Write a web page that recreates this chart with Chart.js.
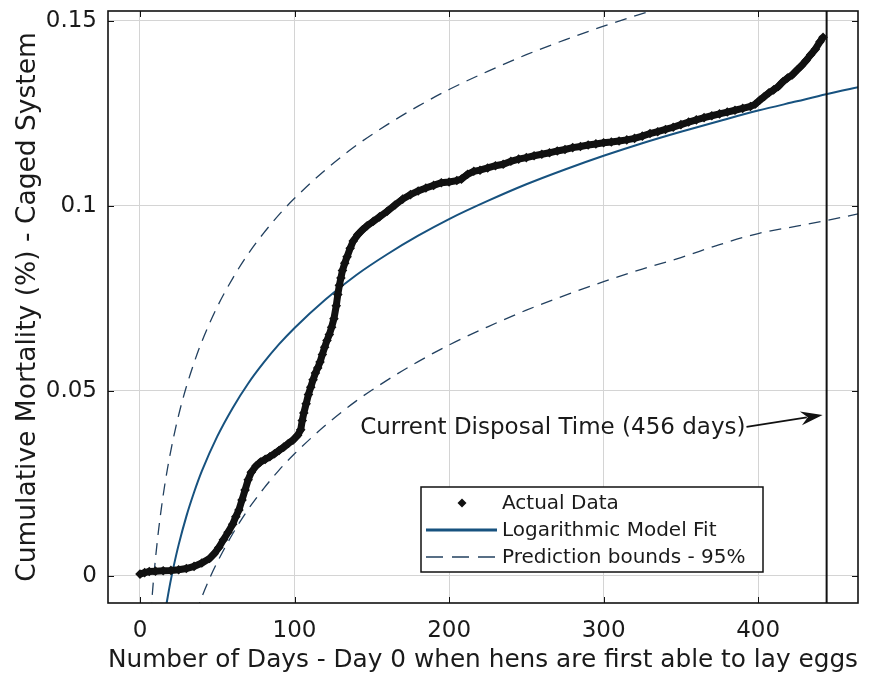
<!DOCTYPE html>
<html><head><meta charset="utf-8">
<script src="https://cdn.jsdelivr.net/npm/chart.js@4.4.1/dist/chart.umd.min.js"></script>
<style>html,body{margin:0;padding:0;background:#fff;} canvas{display:block;}</style>
</head><body>
<canvas id="c" width="871" height="679"></canvas>
<script>
// ---- data ----
const xTickValues = [0, 100, 200, 300, 400];
const xTickLabels = ['0', '100', '200', '300', '400'];
const yTickValues = [0, 0.05, 0.1, 0.15];
const yTickLabels = ['0', '0.05', '0.1', '0.15'];

const seriesNames = ['Actual Data', 'Logarithmic Model Fit', 'Prediction bounds - 95%'];
const xTitle = 'Number of Days - Day 0 when hens are first able to lay eggs';
const yTitle = 'Cumulative Mortality (%) - Caged System';
const annotationText = 'Current Disposal Time (456 days)';
const disposalDay = 444.3;

const actualDays = [0,3,6,10,15,20,25,30,35,40,45,48,51,54,57,60,62,64,66,68,70,72,75,78,81,84,87,90,93,96,99,102,104,105,106,107.5,109,110.5,112,113.5,115,116.5,118,119.5,121,122.5,124,125.5,127,128,129,130,131,132.5,134,136,138,141,144,147,151,155,160,165,170,175,180,185,190,195,200,205,208,212,216,220,225,230,235,240,245,250,255,260,265,270,275,280,285,290,295,300,305,310,315,320,325,330,335,340,345,350,355,360,365,370,375,380,385,390,395,398,401,404,407,410,413,416,419,422,425,428,431,434,437,440,442];
const actualMortality = [0.0005,0.0009,0.0012,0.0013,0.0014,0.0015,0.0017,0.0020,0.0026,0.0035,0.0047,0.0060,0.0077,0.0098,0.0118,0.0140,0.0160,0.0178,0.0205,0.0232,0.0260,0.0280,0.0297,0.0308,0.0315,0.0322,0.0330,0.0339,0.0348,0.0358,0.0367,0.0380,0.0395,0.0420,0.0440,0.0465,0.0490,0.0510,0.0530,0.0548,0.0562,0.0578,0.0598,0.0618,0.0636,0.0652,0.0672,0.0695,0.0730,0.0760,0.0785,0.0805,0.0825,0.0845,0.0862,0.0885,0.0905,0.0922,0.0935,0.0946,0.0958,0.0970,0.0985,0.1002,0.1018,0.1030,0.1040,0.1048,0.1055,0.1062,0.1064,0.1068,0.1072,0.1085,0.1093,0.1096,0.1102,0.1108,0.1112,0.1120,0.1126,0.1130,0.1135,0.1139,0.1143,0.1148,0.1152,0.1157,0.1160,0.1164,0.1167,0.1170,0.1172,0.1175,0.1178,0.1182,0.1188,0.1195,0.1200,0.1206,0.1212,0.1219,0.1226,0.1232,0.1238,0.1243,0.1248,0.1253,0.1258,0.1263,0.1268,0.1274,0.1285,0.1295,0.1305,0.1313,0.1322,0.1335,0.1345,0.1353,0.1366,0.1378,0.1392,0.1408,0.1423,0.1443,0.1455];

const fitDays = [17,18,20,22,25,30,35,40,50,60,70,80,90,100,120,140,160,180,200,225,250,275,300,325,350,375,400,425,444,467];
const fitValues = [-0.0079,-0.0055,-0.0010,0.0030,0.0084,0.0161,0.0226,0.0283,0.0377,0.0454,0.0520,0.0576,0.0626,0.0670,0.0747,0.0813,0.0869,0.0919,0.0964,0.1013,0.1058,0.1098,0.1135,0.1169,0.1200,0.1229,0.1257,0.1282,0.1301,0.1322];

const upperDays = [7,8,9,10,12,15,18,22,26,30,35,40,50,60,70,80,90,100,120,140,160,180,200,225,250,275,300,325,350];
const upperValues = [-0.0105,-0.0048,0.0002,0.0046,0.0123,0.0218,0.0295,0.0380,0.0451,0.0511,0.0576,0.0633,0.0727,0.0804,0.0870,0.0926,0.0976,0.1020,0.1097,0.1163,0.1219,0.1269,0.1314,0.1363,0.1408,0.1448,0.1485,0.1519,0.1550];

const lowerDays = [36,40,45,50,60,70,80,90,100,120,140,160,180,200,225,250,275,300,325,350,375,400,425,444,467];
const lowerValues = [-0.0102,-0.0057,-0.0007,0.0037,0.0114,0.0180,0.0236,0.0286,0.0330,0.0407,0.0473,0.0529,0.0579,0.0624,0.0673,0.0718,0.0758,0.0795,0.0829,0.0860,0.0895,0.0925,0.0945,0.0960,0.0980];

// ---- styles ----
const FONT = 'DejaVu Sans';
const TEXT = '#1a1a1a';
const FIT_COLOR = '#17527f';
const BOUND_COLOR = '#22405f';
const DASH = [12, 8];

const pts = (xs, ys) => xs.map((x, i) => ({x: x, y: ys[i]}));

const decorPlugin = {
  id: 'decor',
  afterDatasetsDraw(chart) {
    const ctx = chart.ctx;
    const a = chart.chartArea;
    const xs = chart.scales.x, ys = chart.scales.y;
    ctx.save();
    // inner ticks
    ctx.strokeStyle = '#111';
    ctx.lineWidth = 1;
    ctx.beginPath();
    xTickValues.forEach(v => {
      const px = Math.round(xs.getPixelForValue(v)) + 0.5;
      ctx.moveTo(px, a.bottom); ctx.lineTo(px, a.bottom - 6);
      ctx.moveTo(px, a.top); ctx.lineTo(px, a.top + 6);
    });
    yTickValues.forEach(v => {
      const py = Math.round(ys.getPixelForValue(v)) + 0.5;
      ctx.moveTo(a.left, py); ctx.lineTo(a.left + 6, py);
      ctx.moveTo(a.right, py); ctx.lineTo(a.right - 6, py);
    });
    ctx.stroke();
    // frame
    ctx.lineWidth = 1.6;
    ctx.strokeStyle = '#111';
    ctx.strokeRect(a.left, a.top, a.right - a.left, a.bottom - a.top);

    // annotation
    ctx.font = '23px "' + FONT + '"';
    ctx.fillStyle = TEXT;
    ctx.textBaseline = 'middle';
    ctx.textAlign = 'left';
    const tx = xs.getPixelForValue(142.5);
    const ty = ys.getPixelForValue(0.0400);
    ctx.fillText(annotationText, tx, ty);
    const tw = ctx.measureText(annotationText).width;
    const sx = tx + tw + 1, sy = ty - 1;
    const ex = xs.getPixelForValue(disposalDay) - 4, ey = ys.getPixelForValue(0.0435);
    const ang = Math.atan2(ey - sy, ex - sx);
    const L = 22, W = 7;
    const bx = ex - L * Math.cos(ang), by = ey - L * Math.sin(ang);
    ctx.strokeStyle = '#111';
    ctx.lineWidth = 1.6;
    ctx.beginPath(); ctx.moveTo(sx, sy); ctx.lineTo(bx + 6 * Math.cos(ang), by + 6 * Math.sin(ang)); ctx.stroke();
    ctx.fillStyle = '#111';
    ctx.beginPath();
    ctx.moveTo(ex, ey);
    ctx.lineTo(bx - W * Math.sin(ang), by + W * Math.cos(ang));
    ctx.lineTo(bx + 7 * Math.cos(ang), by + 7 * Math.sin(ang));
    ctx.lineTo(bx + W * Math.sin(ang), by - W * Math.cos(ang));
    ctx.closePath(); ctx.fill();

    // legend
    const lx = a.left + 313, ly = a.top + 476, lw = 342, lh = 85;
    ctx.fillStyle = '#fff';
    ctx.fillRect(lx, ly, lw, lh);
    ctx.lineWidth = 1.5;
    ctx.strokeStyle = '#111';
    ctx.strokeRect(lx, ly, lw, lh);
    const rows = [ly + 16, ly + 43, ly + 70];
    ctx.fillStyle = '#111';
    ctx.beginPath();
    const dx = lx + 41, dy = rows[0];
    ctx.moveTo(dx, dy - 4.5); ctx.lineTo(dx + 4.5, dy); ctx.lineTo(dx, dy + 4.5); ctx.lineTo(dx - 4.5, dy); ctx.closePath(); ctx.fill();
    ctx.strokeStyle = FIT_COLOR; ctx.lineWidth = 3;
    ctx.beginPath(); ctx.moveTo(lx + 5, rows[1]); ctx.lineTo(lx + 76, rows[1]); ctx.stroke();
    ctx.strokeStyle = BOUND_COLOR; ctx.lineWidth = 1.3; ctx.setLineDash([17, 9]);
    ctx.beginPath(); ctx.moveTo(lx + 5, rows[2]); ctx.lineTo(lx + 76, rows[2]); ctx.stroke();
    ctx.setLineDash([]);
    ctx.font = '20px "' + FONT + '"';
    ctx.fillStyle = TEXT;
    ctx.textBaseline = 'middle';
    seriesNames.forEach((n, i) => ctx.fillText(n, lx + 81, rows[i] + 1));
    ctx.restore();
  }
};

new Chart(document.getElementById('c'), {
  type: 'line',
  data: {
    datasets: [
      {
        label: seriesNames[0],
        data: pts(actualDays, actualMortality),
        borderColor: '#111', backgroundColor: '#111',
        borderWidth: 7, tension: 0,
        pointStyle: 'rectRot', pointRadius: 4.8, pointBorderWidth: 0,
        pointBackgroundColor: '#111',
        order: 1
      },
      {
        label: seriesNames[1],
        data: pts(fitDays, fitValues),
        borderColor: FIT_COLOR, borderWidth: 2, pointRadius: 0,
        cubicInterpolationMode: 'monotone', order: 2
      },
      {
        label: seriesNames[2],
        data: pts(upperDays, upperValues),
        borderColor: BOUND_COLOR, borderWidth: 1.3, borderDash: DASH, pointRadius: 0,
        cubicInterpolationMode: 'monotone', order: 3
      },
      {
        label: 'lower',
        data: pts(lowerDays, lowerValues),
        borderColor: BOUND_COLOR, borderWidth: 1.3, borderDash: DASH, pointRadius: 0,
        cubicInterpolationMode: 'monotone', order: 3
      },
      {
        label: 'disposal',
        data: [{x: disposalDay, y: -1}, {x: disposalDay, y: 1}],
        borderColor: '#111', borderWidth: 2, pointRadius: 0, order: 0
      }
    ]
  },
  options: {
    responsive: false,
    animation: false,
    devicePixelRatio: 1,
    layout: {padding: {left: 0, right: 13, top: 11, bottom: 0}},
    plugins: {legend: {display: false}, tooltip: {enabled: false}},
    scales: {
      x: {
        type: 'linear', min: -20.7, max: 464.6,
        afterBuildTicks: s => { s.ticks = xTickValues.map(v => ({value: v})); },
        afterFit: s => { s.height = 76; s.paddingLeft = 0; s.paddingRight = 0; },
        grid: {color: '#d4d4d4', lineWidth: 1, drawTicks: false},
        border: {display: false},
        ticks: {
          padding: 14, color: TEXT, maxRotation: 0,
          font: {family: FONT, size: 23},
          callback: v => xTickLabels[xTickValues.indexOf(v)]
        },
        title: {display: true, text: xTitle, color: TEXT,
          font: {family: FONT, size: 25.6}, padding: {top: 0, bottom: 3}}
      },
      y: {
        type: 'linear', min: -0.0073, max: 0.1526,
        afterBuildTicks: s => { s.ticks = yTickValues.map(v => ({value: v})); },
        afterFit: s => { s.width = 108; s.paddingTop = 0; s.paddingBottom = 0; },
        grid: {color: '#d4d4d4', lineWidth: 1, drawTicks: false},
        border: {display: false},
        ticks: {
          padding: 11, color: TEXT,
          font: {family: FONT, size: 23},
          callback: v => yTickLabels[yTickValues.indexOf(v)]
        },
        title: {display: true, text: yTitle, color: TEXT,
          font: {family: FONT, size: 26.5}, padding: {top: 12, bottom: 0}}
      }
    }
  },
  plugins: [decorPlugin]
});
</script>
</body></html>
